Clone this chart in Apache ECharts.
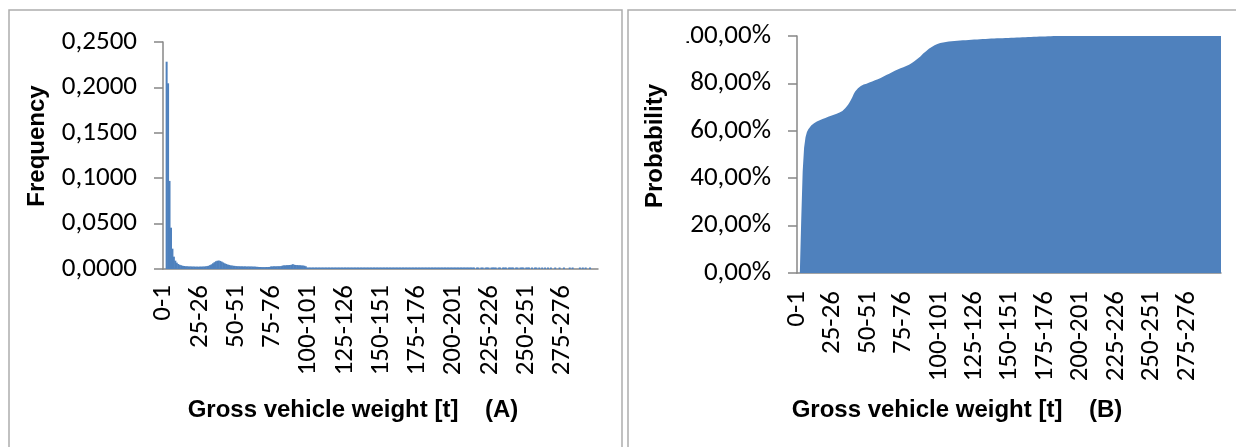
<!DOCTYPE html>
<html>
<head>
<meta charset="utf-8">
<script src="https://cdn.jsdelivr.net/npm/echarts@6/dist/echarts.min.js"></script>
<style>
  html, body { margin: 0; padding: 0; background: #ffffff; }
  #chart { width: 1236px; height: 447px; }
</style>
</head>
<body>
<div id="chart"></div>
<script>
// Weight classes of 1 t: "0-1", "1-2", ... "299-300"
const classStarts = Array.from({ length: 300 }, (_, i) => i);
const categories = classStarts.map(s => s + '-' + (s + 1));

// (A) relative frequency of each weight class
const frequency = [
  0, 0, 0.2283, 0.2045, 0.0970, 0.0455, 0.0224, 0.0136, 0.0092, 0.0070,
  0.0055, 0.0046, 0.0041, 0.0036, 0.0033, 0.0031, 0.0030, 0.0029, 0.0028, 0.0028,
  0.0027, 0.0027, 0.0026, 0.0026, 0.0026, 0.0026, 0.0027, 0.0027, 0.0028, 0.0030,
  0.0032, 0.0036, 0.0043, 0.0052, 0.0063, 0.0075, 0.0085, 0.0091, 0.0093, 0.0089,
  0.0081, 0.0072, 0.0063, 0.0056, 0.0050, 0.0045, 0.0041, 0.0038, 0.0036, 0.0034,
  0.0032, 0.0031, 0.0030, 0.0030, 0.0029, 0.0029, 0.0029, 0.0028, 0.0028, 0.0028,
  0.0028, 0.0027, 0.0027, 0.0026, 0.0025, 0.0023, 0.0022, 0.0022, 0.0021, 0.0021,
  0.0021, 0.0022, 0.0022, 0.0023, 0.0028, 0.0029, 0.0030, 0.0030, 0.0030, 0.0031,
  0.0031, 0.0032, 0.0038, 0.0040, 0.0041, 0.0042, 0.0043, 0.0044, 0.0046, 0.0053,
  0.0047, 0.0044, 0.0043, 0.0042, 0.0041, 0.0040, 0.0038, 0.0036, 0.0030, 0.0014,
  0.0012, 0.0011, 0.0010, 0.0009, 0.0009, 0.0008, 0.0008, 0.0007, 0.0007, 0.0007,
  0.0006, 0.0006, 0.0006, 0.0006, 0.0005, 0.0005, 0.0005, 0.0005, 0.0005, 0.0004,
  0.0004, 0.0004, 0.0004, 0.0004, 0.0004, 0.0004, 0.0004, 0.0004, 0.0004, 0.0004,
  0.0004, 0.0004, 0.0003, 0.0003, 0.0003, 0.0003, 0.0003, 0.0003, 0.0003, 0.0003,
  0.0003, 0.0003, 0.0003, 0.0003, 0.0003, 0.0003, 0.0003, 0.0003, 0.0003, 0.0003,
  0.0003, 0.0003, 0.0003, 0.0002, 0.0002, 0.0002, 0.0002, 0.0002, 0.0002, 0.0002,
  0.0002, 0.0002, 0.0002, 0.0002, 0.0002, 0.0002, 0.0002, 0.0002, 0.0002, 0.0002,
  0.0002, 0.0002, 0.0002, 0.0002, 0.0002, 0.0001, 0.0001, 0.0001, 0.0001, 0.0001,
  0.0001, 0.0001, 0.0001, 0.0001, 0.0001, 0.0001, 0.0001, 0.0001, 0.0001, 0.0001,
  0.0001, 0.0001, 0.0001, 0.0001, 0.0001, 0.0001, 0.0001, 0.0001, 0.0001, 0.0001,
  0.0001, 0.0001, 0.0001, 0.0001, 0.0001, 0.0001, 0.0001, 0.0001, 0.0001, 0.0001,
  0.0001, 0.0001, 0.0001, 0.0001, 0.0001, 0, 0.0001, 0.0001, 0, 0.0001,
  0.0001, 0, 0.0001, 0.0001, 0.0001, 0, 0.0001, 0.0001, 0.0001, 0.0001,
  0, 0.0001, 0.0001, 0, 0.0001, 0.0001, 0.0001, 0, 0.0001, 0.0001,
  0.0001, 0.0001, 0, 0.0001, 0.0001, 0, 0.0001, 0.0001, 0.0001, 0,
  0.0001, 0.0001, 0.0001, 0, 0.0001, 0, 0.0001, 0.0001, 0, 0.0001,
  0, 0.0001, 0, 0.0001, 0, 0.0001, 0, 0.0001, 0, 0,
  0.0001, 0, 0, 0.0001, 0, 0, 0.0001, 0, 0, 0,
  0.0001, 0, 0.0001, 0, 0, 0, 0, 0.0001, 0, 0.0001,
  0, 0.0001, 0, 0, 0.0001, 0, 0, 0, 0, 0
];

// (B) cumulative probability up to each weight class
const probability = [
  0, 0, 0, 0.229, 0.428, 0.528, 0.573, 0.595, 0.607, 0.615,
  0.622, 0.628, 0.632, 0.636, 0.639, 0.642, 0.645, 0.648, 0.650, 0.652,
  0.654, 0.657, 0.659, 0.661, 0.664, 0.666, 0.668, 0.670, 0.672, 0.674,
  0.677, 0.680, 0.684, 0.689, 0.695, 0.702, 0.710, 0.719, 0.730, 0.742,
  0.755, 0.766, 0.774, 0.780, 0.785, 0.789, 0.792, 0.795, 0.797, 0.799,
  0.801, 0.804, 0.806, 0.808, 0.811, 0.813, 0.816, 0.818, 0.821, 0.823,
  0.826, 0.829, 0.832, 0.835, 0.838, 0.841, 0.844, 0.847, 0.850, 0.853,
  0.856, 0.859, 0.862, 0.864, 0.866, 0.868, 0.870, 0.873, 0.876, 0.879,
  0.882, 0.886, 0.890, 0.894, 0.899, 0.904, 0.909, 0.914, 0.920, 0.926,
  0.931, 0.936, 0.941, 0.946, 0.950, 0.954, 0.958, 0.961, 0.964, 0.966,
  0.968, 0.970, 0.972, 0.973, 0.974, 0.975, 0.976, 0.977, 0.977, 0.978,
  0.978, 0.979, 0.979, 0.980, 0.980, 0.981, 0.981, 0.982, 0.982, 0.982,
  0.983, 0.983, 0.984, 0.984, 0.984, 0.985, 0.985, 0.985, 0.986, 0.986,
  0.986, 0.987, 0.987, 0.987, 0.988, 0.988, 0.988, 0.989, 0.989, 0.989,
  0.990, 0.990, 0.990, 0.990, 0.991, 0.991, 0.991, 0.992, 0.992, 0.992,
  0.992, 0.993, 0.993, 0.993, 0.993, 0.994, 0.994, 0.994, 0.994, 0.995,
  0.995, 0.995, 0.995, 0.996, 0.996, 0.996, 0.996, 0.997, 0.997, 0.997,
  0.997, 0.998, 0.998, 0.998, 0.998, 0.998, 0.999, 0.999, 0.999, 0.999,
  0.999, 1, 1, 1, 1, 1, 1, 1, 1, 1,
  1, 1, 1, 1, 1, 1, 1, 1, 1, 1,
  1, 1, 1, 1, 1, 1, 1, 1, 1, 1,
  1, 1, 1, 1, 1, 1, 1, 1, 1, 1,
  1, 1, 1, 1, 1, 1, 1, 1, 1, 1,
  1, 1, 1, 1, 1, 1, 1, 1, 1, 1,
  1, 1, 1, 1, 1, 1, 1, 1, 1, 1,
  1, 1, 1, 1, 1, 1, 1, 1, 1, 1,
  1, 1, 1, 1, 1, 1, 1, 1, 1, 1,
  1, 1, 1, 1, 1, 1, 1, 1, 1, 1,
  1, 1, 1, 1, 1, 1, 1, 1, 1, 1,
  1, 1, 1, 1, 1, 1, 1, 1, 1, 1
];

const freqTicks = { min: 0, max: 0.25, interval: 0.05 };
const probTicks = { min: 0, max: 1, interval: 0.2 };
const xTitleA = 'Gross vehicle weight [t]    (A)';
const xTitleB = 'Gross vehicle weight [t]    (B)';
const yTitleA = 'Frequency';
const yTitleB = 'Probability';

const BLUE = '#4F81BD';
const AXIS = '#878787';
const BORDER = '#ADADAD';
const TICK_FONT = 'Carlito, "Open Sans", sans-serif';
const TICK_SIZE = 27;
const TITLE_FONT = '"Liberation Sans", Arial, sans-serif';

const commaDecimal = (v, digits) => v.toFixed(digits).replace('.', ',');

function categoryAxis(gridIndex, boundaryGap, margin) {
  return {
    type: 'category',
    gridIndex: gridIndex,
    data: categories,
    boundaryGap: boundaryGap,
    axisLine: { show: true, lineStyle: { color: AXIS, width: 1.5 } },
    axisTick: { show: false },
    splitLine: { show: false },
    axisLabel: {
      interval: 24,
      rotate: 90,
      margin: margin,
      color: '#000',
      fontFamily: TICK_FONT,
      fontSize: TICK_SIZE
    }
  };
}

function valueAxis(gridIndex, ticks, formatter) {
  return {
    type: 'value',
    gridIndex: gridIndex,
    min: ticks.min,
    max: ticks.max,
    interval: ticks.interval,
    axisLine: { show: true, lineStyle: { color: AXIS, width: 1.5 } },
    axisTick: { show: true, inside: false, length: 9, lineStyle: { color: AXIS, width: 1.5 } },
    splitLine: { show: false },
    axisLabel: {
      margin: 26,
      color: '#000',
      fontFamily: TICK_FONT,
      fontSize: TICK_SIZE,
      formatter: formatter
    }
  };
}

function titleText(text, x, y, rotation) {
  return {
    type: 'text',
    x: x,
    y: y,
    rotation: rotation,
    style: {
      text: text,
      fill: '#000',
      font: 'bold 24px ' + TITLE_FONT,
      align: 'center',
      verticalAlign: 'middle'
    }
  };
}

const chart = echarts.init(document.getElementById('chart'), null, { renderer: 'canvas' });

chart.setOption({
  animation: false,
  backgroundColor: '#ffffff',
  grid: [
    { left: 163, top: 42, right: 1236 - 598, bottom: 447 - 269, containLabel: false },
    { left: 797, top: 36, right: 1236 - 1221, bottom: 447 - 273, containLabel: false }
  ],
  xAxis: [
    categoryAxis(0, true, 16),
    categoryAxis(1, false, 18)
  ],
  yAxis: [
    valueAxis(0, freqTicks, v => commaDecimal(v, 4)),
    valueAxis(1, probTicks, v => commaDecimal(v * 100, 2) + '%')
  ],
  series: [
    {
      name: yTitleA,
      type: 'bar',
      xAxisIndex: 0,
      yAxisIndex: 0,
      data: frequency.map(v => (v === 0 ? null : v)),
      barWidth: 2,
      barMinHeight: 1.5,
      itemStyle: { color: BLUE },
      silent: true
    },
    {
      name: yTitleB,
      type: 'line',
      xAxisIndex: 1,
      yAxisIndex: 1,
      data: probability,
      symbol: 'none',
      lineStyle: { width: 0 },
      areaStyle: { color: BLUE, opacity: 1 },
      silent: true
    }
  ],
  graphic: [
    // panel frames
    { type: 'rect', z: 1, shape: { x: 9, y: 10, width: 613, height: 470 },
      style: { fill: 'none', stroke: BORDER, lineWidth: 1.5 } },
    { type: 'rect', z: 1, shape: { x: 628, y: 10, width: 640, height: 470 },
      style: { fill: 'none', stroke: BORDER, lineWidth: 1.5 } },
    // the (B) chart area cuts off the left edge of its top tick label
    { type: 'rect', z: 100, shape: { x: 640, y: 22, width: 46.5, height: 30 },
      style: { fill: '#ffffff' } },
    titleText(yTitleA, 37, 146, Math.PI / 2),
    titleText(yTitleB, 655, 146, Math.PI / 2),
    titleText(xTitleA, 353, 410, 0),
    titleText(xTitleB, 957, 410, 0)
  ]
});
</script>
</body>
</html>
